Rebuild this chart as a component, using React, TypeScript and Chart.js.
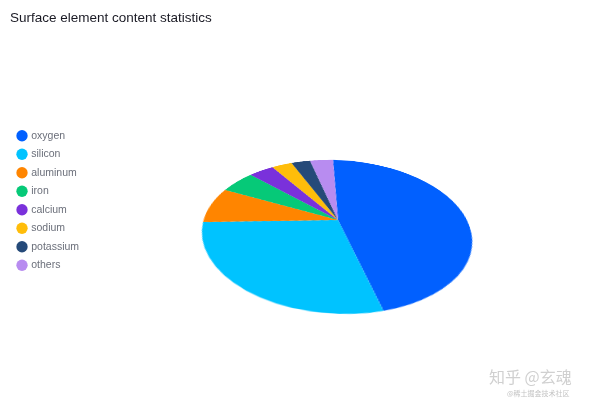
import { useRef, useEffect } from "react";
import Chart from "chart.js/auto";

const elements = ["oxygen", "silicon", "aluminum", "iron", "calcium", "sodium", "potassium", "others"];
const contents = [46.3, 27.9, 7.7, 5.1, 3.7, 3.0, 2.8, 3.4];
const colors = ["#0160ff", "#00c3ff", "#ff8500", "#06c978", "#7a31db", "#ffbd0a", "#254a79", "#b88cf0"];

const App = () => {
  const frameRef = useRef<HTMLCanvasElement>(null);
  const pieRef = useRef<HTMLCanvasElement>(null);

  useEffect(() => {
    if (!frameRef.current || !pieRef.current) return;
    // Title and legend live on a flat canvas, its own pie has no sweep
    const frame = new Chart(frameRef.current, {
      type: "pie",
      data: {
        labels: elements,
        datasets: [{ data: contents, backgroundColor: colors, circumference: 0, borderWidth: 0 }],
      },
      options: {
        responsive: false,
        animation: false,
        layout: { padding: { left: 10 } },
        plugins: {
          tooltip: { enabled: false },
          title: {
            display: true,
            text: "Surface element content statistics",
            align: "start",
            color: "#1a1a24",
            font: { family: "Liberation Sans", size: 13.5, weight: "normal" },
            padding: { top: 10, bottom: 0 },
          },
          legend: {
            position: "left",
            align: "center",
            onClick: () => {},
            labels: {
              usePointStyle: true,
              pointStyle: "circle",
              boxWidth: 8,
              boxHeight: 8,
              padding: 8,
              color: "#6b6f7a",
              font: { family: "Liberation Sans", size: 10.5 },
            },
          },
        },
      },
    });
    // The pie is tilted by CSS on its own canvas
    const pie = new Chart(pieRef.current, {
      type: "pie",
      data: {
        labels: elements,
        datasets: [{ data: contents, backgroundColor: colors, borderWidth: 0, rotation: -4.3 }],
      },
      options: {
        responsive: false,
        animation: false,
        layout: { padding: 0 },
        plugins: { legend: { display: false }, tooltip: { enabled: false } },
      },
    });
    return () => {
      frame.destroy();
      pie.destroy();
    };
  }, []);

  return (
    <div style={{ position: "absolute", left: 0, top: 0, width: 600, height: 401, overflow: "hidden" }}>
      <canvas ref={frameRef} width={600} height={401} style={{ position: "absolute", left: 0, top: 0 }} />
      <canvas
        ref={pieRef}
        width={264}
        height={264}
        style={{
          position: "absolute",
          left: 338 - 132,
          top: 220 - 132,
          transform: "rotate(3deg) perspective(498px) rotateX(56.4deg)",
        }}
      />
      <div style={{ position: "absolute", left: 489, top: 364, fontFamily: "Noto Sans CJK SC", fontSize: 16, color: "#d0d0d0", whiteSpace: "nowrap" }}>
        知乎 @玄魂
      </div>
      <div style={{ position: "absolute", left: 507, top: 388, fontFamily: "Noto Sans CJK SC", fontSize: 7, color: "#c4c4c4", whiteSpace: "nowrap" }}>
        @稀土掘金技术社区
      </div>
    </div>
  );
};

export default App;
